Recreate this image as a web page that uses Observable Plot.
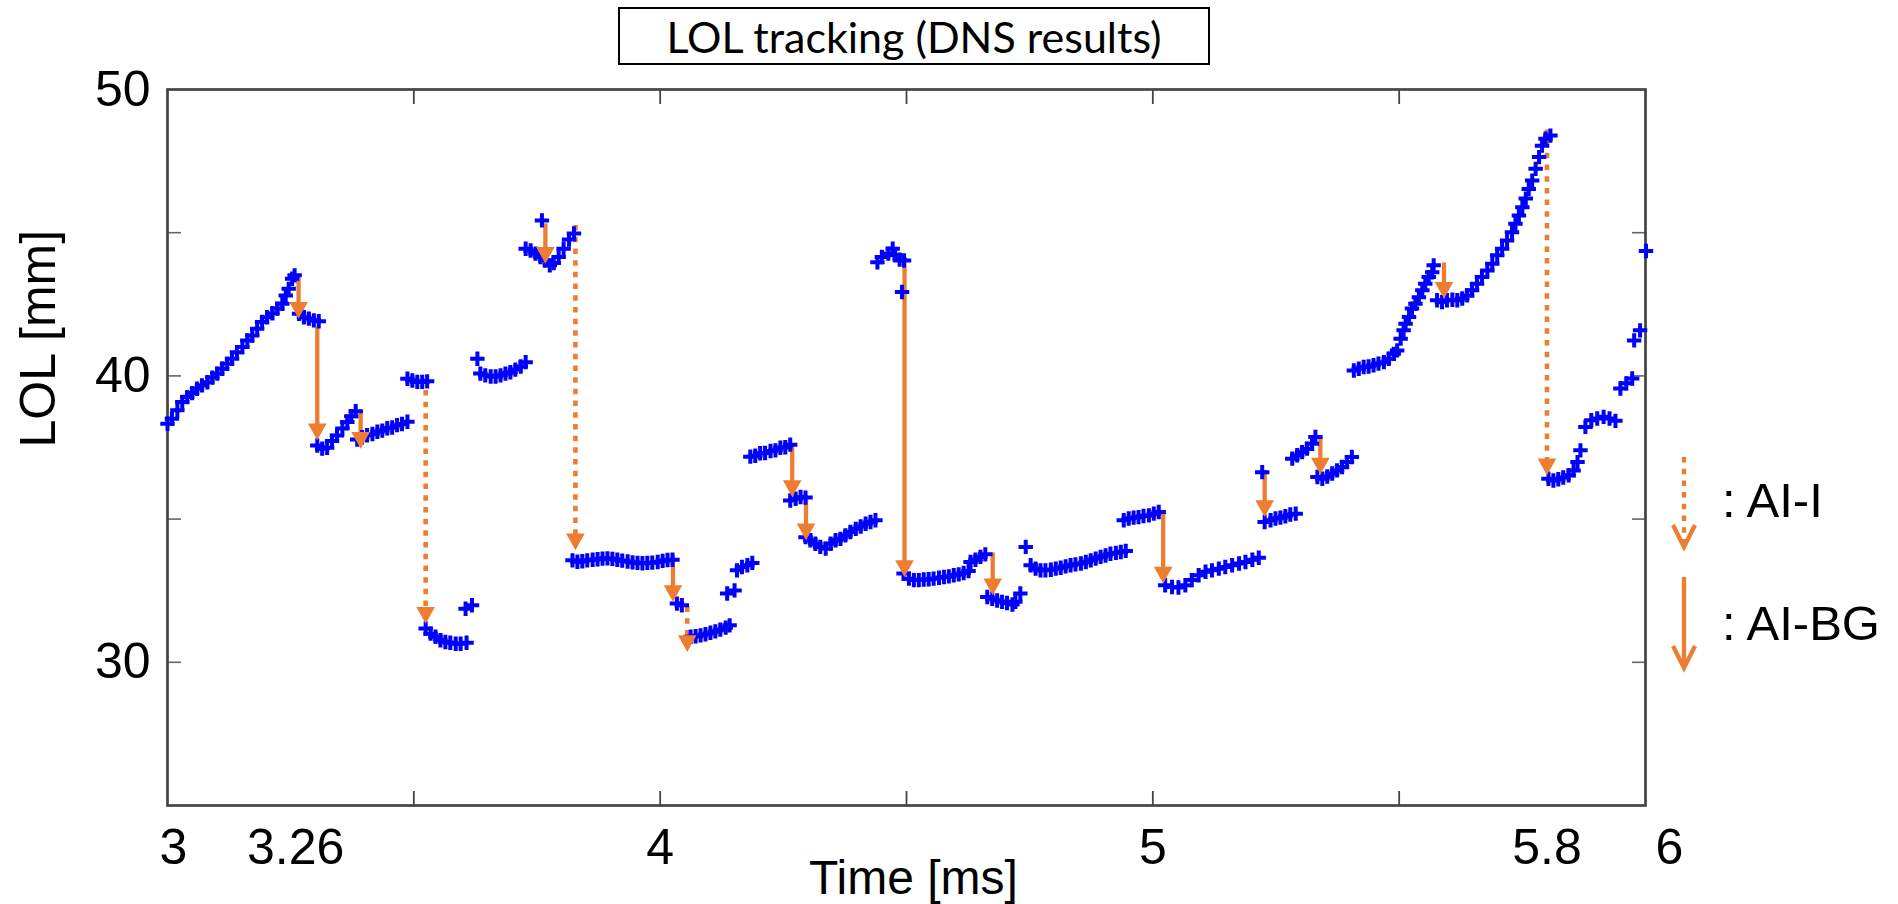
<!DOCTYPE html>
<html>
<head>
<meta charset="utf-8">
<script src="https://cdn.jsdelivr.net/npm/d3@7"></script>
<script src="https://cdn.jsdelivr.net/npm/@observablehq/plot@0.6"></script>
<style>
  body { margin: 0; background: #fff; }
  #wrap { position: relative; width: 1898px; height: 904px; overflow: hidden; background: #fff; }
  #title {
    position: absolute; left: 618px; top: 7px; width: 588px; height: 54px;
    border: 2.5px solid #000; font-family: Lato, "Open Sans", sans-serif; font-size: 43px;
    display: flex; align-items: center; justify-content: center; color: #000; background: #fff;
  }
  #legend { position: absolute; left: 0; top: 0; pointer-events: none; }
</style>
</head>
<body>
<div id="wrap">
  <div id="chart"></div>
  <div id="title">LOL tracking (DNS results)</div>
  <svg id="legend" width="1898" height="904"></svg>
</div>
<script>
// ---- LOL samples (time in ms, LOL in mm) ----
const lolTime = [
  3.000,3.009,3.020,3.030,3.040,3.050,3.060,3.070,3.081,3.091,3.101,3.111,3.121,3.131,3.141,3.152,3.162,3.172,3.182,3.192,3.202,3.213,3.223,3.233,3.240,3.246,3.253,3.258,
  3.267,3.277,3.287,3.297,3.307,
  3.304,3.314,3.324,3.334,3.344,3.355,3.365,3.373,3.382,
  3.385,3.395,3.405,3.416,3.426,3.436,3.446,3.456,3.466,3.476,3.487,
  3.487,3.497,3.507,3.517,3.527,
  3.524,3.534,3.544,3.554,3.564,3.574,3.585,3.595,3.607,
  3.605,3.618,
  3.629,3.635,3.645,3.656,3.666,3.676,3.686,3.696,3.706,3.717,3.727,
  3.760,3.727,3.737,3.747,3.757,3.767,3.776,3.784,3.794,3.804,3.815,3.825,
  3.822,3.832,3.842,3.852,3.863,3.873,3.883,3.893,3.903,3.913,3.923,3.934,3.944,3.954,3.964,3.974,3.984,3.995,4.005,4.015,4.025,
  4.034,4.044,
  4.062,4.072,4.082,4.092,4.102,4.112,4.122,4.133,4.141,
  4.136,4.151,
  4.156,4.166,4.177,4.187,
  4.183,4.193,4.203,4.213,4.224,4.234,4.244,4.254,4.264,
  4.264,4.275,4.285,4.295,
  4.295,4.305,4.315,4.325,4.336,4.346,4.356,4.366,4.376,4.386,4.397,4.407,4.417,4.427,4.437,
  4.441,4.450,4.463,4.472,4.477,4.486,4.495,
  4.491,
  4.494,4.505,4.515,4.525,4.535,4.545,4.555,4.566,4.576,4.586,4.596,4.606,4.616,4.626,4.630,4.640,4.650,4.660,
  4.664,4.674,4.684,4.694,4.704,4.715,4.721,4.731,
  4.742,
  4.752,4.762,4.772,4.782,4.793,4.803,4.813,4.823,4.833,4.843,4.854,4.864,4.874,4.884,4.894,4.904,4.914,4.925,4.935,4.945,
  4.941,4.951,4.961,4.971,4.981,4.992,5.002,5.012,
  5.025,5.039,5.052,5.066,5.079,5.093,5.107,5.120,5.134,5.147,5.161,5.175,5.188,5.202,5.215,
  5.222,
  5.227,5.239,5.249,5.259,5.269,5.279,5.290,
  5.283,5.293,5.303,5.313,5.323,5.330,
  5.334,5.344,5.354,5.364,5.374,5.384,5.394,5.404,
  5.408,5.418,5.428,5.438,5.448,5.458,5.469,5.479,5.489,5.496,5.503,5.509,5.513,5.520,5.526,5.533,5.540,5.547,5.553,5.560,5.567,5.570,
  5.577,5.587,5.597,5.608,5.618,5.628,5.638,5.648,5.658,5.668,5.679,5.689,5.699,5.709,5.719,5.729,5.736,5.743,5.750,5.757,5.763,5.770,5.777,5.784,5.790,5.797,5.807,
  5.803,5.813,5.823,5.833,5.844,5.854,5.862,5.868,5.878,5.890,5.902,5.915,5.927,5.939,5.949,5.961,5.973,5.977,5.989,6.001
];
const lolValue = [
  38.33,38.50,38.80,39.09,39.26,39.40,39.55,39.67,39.78,39.94,40.08,40.25,40.42,40.60,40.83,41.01,41.24,41.41,41.65,41.88,42.05,42.19,42.35,42.52,42.81,43.04,43.39,43.51,
  42.17,42.05,42.00,41.94,41.91,
  37.57,37.46,37.49,37.73,37.92,38.16,38.39,38.59,38.77,
  37.78,37.86,37.93,37.97,38.05,38.09,38.17,38.20,38.28,38.32,38.40,
  39.90,39.84,39.79,39.79,39.81,
  31.18,31.00,30.89,30.77,30.71,30.68,30.65,30.65,30.68,
  31.87,31.99,
  40.60,40.08,40.02,39.98,39.98,40.02,40.08,40.13,40.22,40.33,40.48,
  45.43,44.44,44.38,44.27,44.15,44.03,43.86,43.94,44.15,44.44,44.76,44.97,
  33.56,33.51,33.53,33.56,33.58,33.60,33.62,33.63,33.61,33.58,33.55,33.52,33.49,33.47,33.46,33.47,33.48,33.50,33.54,33.57,33.58,
  32.05,31.99,
  30.89,30.91,30.94,30.98,31.03,31.08,31.14,31.21,31.29,
  32.40,32.51,
  33.21,33.33,33.39,33.47,
  37.18,37.21,37.30,37.31,37.38,37.40,37.49,37.51,37.60,
  35.65,35.71,35.77,35.75,
  34.37,34.26,34.14,34.03,33.97,34.14,34.26,34.31,34.43,34.55,34.66,34.74,34.84,34.90,34.96,
  43.97,44.15,44.27,44.44,44.21,44.06,44.03,
  42.93,
  33.10,32.92,32.87,32.87,32.89,32.90,32.92,32.95,32.98,33.00,33.04,33.07,33.12,33.19,33.50,33.58,33.68,33.77,
  32.28,32.22,32.16,32.11,32.07,32.02,32.11,32.40,
  34.03,
  33.39,33.27,33.21,33.21,33.23,33.27,33.30,33.35,33.39,33.42,33.45,33.50,33.56,33.62,33.68,33.73,33.79,33.82,33.85,33.89,
  34.96,35.02,35.05,35.07,35.11,35.13,35.19,35.25,
  32.69,32.63,32.61,32.69,32.87,33.04,33.16,33.21,33.27,33.33,33.39,33.45,33.50,33.58,33.65,
  36.64,
  34.90,34.96,35.02,35.05,35.10,35.16,35.19,
  37.11,37.23,37.34,37.46,37.63,37.87,
  36.47,36.41,36.49,36.59,36.70,36.82,36.99,37.17,
  40.19,40.25,40.31,40.33,40.37,40.43,40.48,40.60,40.77,40.89,41.30,41.59,41.82,42.06,42.35,42.52,42.75,42.99,43.22,43.45,43.62,43.86,
  42.64,42.58,42.64,42.66,42.64,42.70,42.81,42.99,43.22,43.45,43.68,43.92,44.21,44.44,44.73,45.02,45.31,45.60,45.89,46.19,46.53,46.82,47.23,47.64,48.04,48.28,48.39,
  36.41,36.35,36.39,36.45,36.53,36.70,36.99,37.40,38.22,38.45,38.51,38.57,38.51,38.43,39.56,39.74,39.91,41.24,41.59,44.36
];

// ---- Jump arrows: time, start LOL, end LOL, kind ----
const arrowTime = [3.266, 3.304, 3.392, 3.524, 3.767, 3.828, 4.026, 4.055, 4.268, 4.296, 4.496, 4.675, 5.021, 5.227, 5.340, 5.591, 5.800];
const arrowFrom = [43.50, 41.70, 38.74, 39.90, 45.31, 45.25, 33.74, 31.93, 37.63, 35.65, 44.03, 33.82, 35.25, 36.70, 37.87, 43.94, 48.59];
const arrowTo   = [42.00, 37.75, 37.46, 31.35, 43.92, 33.91, 32.11, 30.36, 35.77, 34.26, 32.98, 32.34, 32.75, 35.07, 36.56, 42.69, 36.53];
const arrowKind = ["AI-BG","AI-BG","AI-BG","AI-I","AI-BG","AI-I","AI-BG","AI-I","AI-BG","AI-BG","AI-BG","AI-BG","AI-BG","AI-BG","AI-BG","AI-BG","AI-I"];

// ---- Axes ----
const xDomain = [3, 6];
const yDomain = [25, 50];
const xTickMarks = [3.5, 4, 4.5, 5, 5.5];
const xTickLabels = [3.26, 4, 5, 5.8];
const xFirstLabel = [3];
const xLastLabel = [6];
const yTickMarks = [30, 35, 40, 45];
const yTickLabels = [30, 40, 50];
const xTitle = "Time [ms]";
const yTitle = "LOL [mm]";
const legendKinds = ["AI-I", "AI-BG"];
const legendLabels = [": AI-I", ": AI-BG"];

if (lolTime.length !== lolValue.length) console.error("length mismatch", lolTime.length, lolValue.length);

const samples = lolTime.map((t, i) => ({t, v: lolValue[i]}));
const arrows = arrowTime.map((t, i) => ({t, from: arrowFrom[i], to: arrowTo[i], kind: arrowKind[i]}));

const ORANGE = "#ED7D31";
const BLUE = "#0000FF";
const FONT = '"Liberation Sans", Arial, Helvetica, sans-serif';

// plus marker whose half-arm equals the dot radius
const plusMark = {
  draw(ctx, size) {
    const h = Math.sqrt(size / Math.PI);
    ctx.moveTo(-h, 0); ctx.lineTo(h, 0);
    ctx.moveTo(0, -h); ctx.lineTo(0, h);
  }
};
// filled downward triangle whose tip sits on the anchor point
const downHead = {
  draw(ctx, size) {
    const r = Math.sqrt(size / Math.PI);
    const w = r, h = 1.8 * r;
    ctx.moveTo(0, 0);
    ctx.lineTo(-w, -h);
    ctx.lineTo(w, -h);
    ctx.closePath();
  }
};

const chart = Plot.plot({
  width: 1898,
  height: 904,
  marginTop: 89,
  marginBottom: 99,
  marginLeft: 167,
  marginRight: 253,
  x: {domain: xDomain},
  y: {domain: yDomain},
  style: {fontFamily: FONT, background: "white", color: "black", overflow: "visible"},
  marks: [
    // inward tick marks on all four sides
    Plot.axisY({ticks: yTickMarks, anchor: "left", tickSize: 14, dx: 14, fill: "none", stroke: "#666", strokeWidth: 1.6, label: null}),
    Plot.axisY({ticks: yTickMarks, anchor: "right", tickSize: 14, dx: -14, fill: "none", stroke: "#666", strokeWidth: 1.6, label: null}),
    Plot.axisX({ticks: xTickMarks, anchor: "bottom", tickSize: 14, dy: -14, fill: "none", stroke: "#444", strokeWidth: 1.8, label: null}),
    Plot.axisX({ticks: xTickMarks, anchor: "top", tickSize: 14, dy: 14, fill: "none", stroke: "#444", strokeWidth: 1.8, label: null}),
    // tick labels
    Plot.axisY({ticks: yTickLabels, anchor: "left", tickSize: 0, tickPadding: 17, fontSize: 50, tickFormat: d => String(d), label: null}),
    Plot.axisX({ticks: xTickLabels, anchor: "bottom", tickSize: 0, tickPadding: 23, fontSize: 50, tickFormat: d => String(d), label: null}),
    Plot.axisX({ticks: xFirstLabel, anchor: "bottom", tickSize: 0, tickPadding: 23, dx: 6, fontSize: 50, tickFormat: d => String(d), label: null}),
    Plot.axisX({ticks: xLastLabel, anchor: "bottom", tickSize: 0, tickPadding: 23, dx: 24, fontSize: 50, tickFormat: d => String(d), label: null}),
    // axis titles
    Plot.text([xTitle], {frameAnchor: "bottom", dy: 54, dx: 7, lineAnchor: "top", fontSize: 48, text: d => d}),
    Plot.text([yTitle], {frameAnchor: "left", dx: -129, rotate: -90, fontSize: 50, text: d => d}),
    // frame
    Plot.frame({stroke: "#444", strokeWidth: 2.7}),
    // arrows
    Plot.ruleX(arrows.filter(d => d.kind === "AI-BG"), {x: "t", y1: "from", y2: "to", stroke: ORANGE, strokeWidth: 4.3, insetBottom: 10}),
    Plot.ruleX(arrows.filter(d => d.kind === "AI-I"), {x: "t", y1: "from", y2: "to", stroke: ORANGE, strokeWidth: 4.6, strokeDasharray: "5.5,6.2", insetBottom: 10}),
    // samples
    Plot.dot(samples, {x: "t", y: "v", symbol: plusMark, r: 7.2, fill: "none", stroke: BLUE, strokeWidth: 4}),
    // arrow heads
    Plot.dot(arrows, {x: "t", y: "to", symbol: downHead, r: 9.3, fill: ORANGE, stroke: "none"})
  ]
});
document.getElementById("chart").appendChild(chart);

// ---- Legend (outside the axes, right side) ----
const lg = d3.select("#legend");
const legendRows = [
  {kind: legendKinds[0], label: legendLabels[0], y0: 457, y1: 547, baseline: 517, dash: "5.5,6.2"},
  {kind: legendKinds[1], label: legendLabels[1], y0: 577, y1: 668, baseline: 640, dash: null}
];
const lx = 1684;
legendRows.forEach(row => {
  lg.append("line")
    .attr("x1", lx).attr("x2", lx)
    .attr("y1", row.y0).attr("y2", row.y1 - 4)
    .attr("stroke", ORANGE).attr("stroke-width", 4.3)
    .attr("stroke-dasharray", row.dash);
  lg.append("path")
    .attr("d", `M${lx - 11},${row.y1 - 22}L${lx},${row.y1}L${lx + 11},${row.y1 - 22}`)
    .attr("fill", "none").attr("stroke", ORANGE).attr("stroke-width", 4.3);
  lg.append("text")
    .attr("x", 1722).attr("y", row.baseline)
    .attr("font-family", FONT).attr("font-size", 49)
    .attr("fill", "#000")
    .text(row.label);
});
</script>
</body>
</html>
